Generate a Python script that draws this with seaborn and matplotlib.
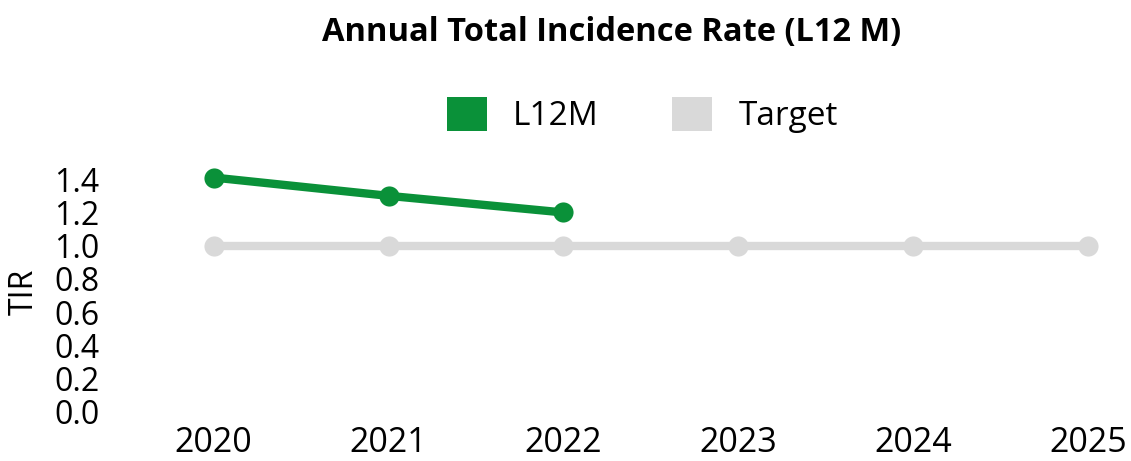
import pandas as pd
import matplotlib.pyplot as plt
import seaborn as sns
from matplotlib.patches import Patch

# data
years = [2020, 2021, 2022, 2023, 2024, 2025]
l12m_years = [2020, 2021, 2022]
l12m_values = [1.41, 1.30, 1.20]
target_values = [1.0, 1.0, 1.0, 1.0, 1.0, 1.0]
y_ticks = [0.0, 0.2, 0.4, 0.6, 0.8, 1.0, 1.2, 1.4]

GREEN = '#0a9139'
GREY = '#d9d9d9'

df_l12m = pd.DataFrame({'Year': l12m_years, 'TIR': l12m_values})
df_target = pd.DataFrame({'Year': years, 'TIR': target_values})

sns.set_theme(style="white")
plt.rcParams['font.family'] = ['Open Sans', 'DejaVu Sans']
plt.rcParams['text.color'] = 'black'
plt.rcParams['axes.labelcolor'] = 'black'
plt.rcParams['xtick.color'] = 'black'
plt.rcParams['ytick.color'] = 'black'

fig = plt.figure(figsize=(11.31, 4.61), dpi=100)
ax = fig.add_axes([0.093, 0.1063, 0.9, 0.523])

sns.lineplot(data=df_target, x='Year', y='TIR', ax=ax, color=GREY,
             linewidth=6, marker='o', markersize=14.5, markeredgewidth=0, clip_on=False)
sns.lineplot(data=df_l12m, x='Year', y='TIR', ax=ax, color=GREEN,
             linewidth=6, marker='o', markersize=14.5, markeredgewidth=0, clip_on=False)

ax.set_xlim(2019.38, 2025.2)
ax.set_ylim(0, 1.45)
ax.set_xticks(years)
ax.set_xticklabels([str(y) for y in years], fontsize=24.5)
ax.set_yticks(y_ticks)
ax.set_yticklabels([f'{v:.1f}' for v in y_ticks], fontsize=23)
ax.tick_params(axis='x', length=0, pad=10)
ax.tick_params(axis='y', length=0, pad=4)
ax.set_xlabel('')
ax.set_ylabel('TIR', fontsize=23, labelpad=10)
sns.despine(ax=ax, left=True, bottom=True)
ax.grid(False)

fig.suptitle('Annual Total Incidence Rate (L12 M)', fontsize=23.5, fontweight='bold',
             x=0.541, y=0.965)

handles = [Patch(facecolor=GREEN, edgecolor='none'), Patch(facecolor=GREY, edgecolor='none')]
fig.legend(handles, ['L12M', 'Target'], loc='center', bbox_to_anchor=(0.568, 0.75),
           ncol=2, frameon=False, fontsize=24, handlelength=1.2, handleheight=1.2,
           handletextpad=0.8, columnspacing=2.2)

fig.savefig('out.png', dpi=100)
plt.close(fig)
